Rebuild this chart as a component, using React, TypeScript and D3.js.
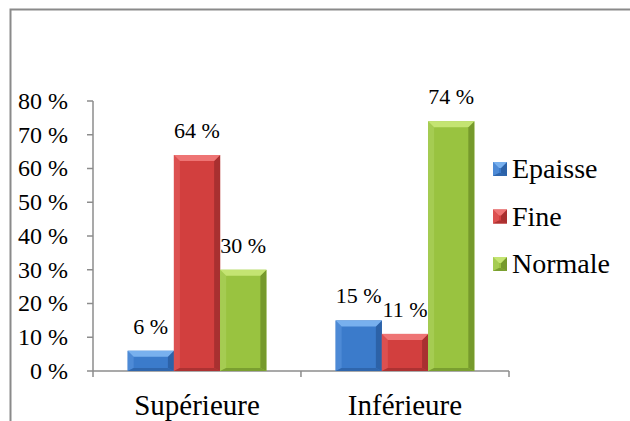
import React from "react";
import * as d3 from "d3";

const categories = ["Supérieure", "Inférieure"];
const seriesNames = ["Epaisse", "Fine", "Normale"];
const epaisse = [0.06, 0.15];
const fine = [0.64, 0.11];
const normale = [0.30, 0.74];
const yTicks = [0, 0.1, 0.2, 0.3, 0.4, 0.5, 0.6, 0.7, 0.8];
const seriesValues = [epaisse, fine, normale];

const palette = [
  { base: "#3b7bcb", light: "#78b0ee", left: "#4d8ad6", right: "#2c62a8", bottom: "#2f66ad" },
  { base: "#d23f3e", light: "#ee7474", left: "#dc5050", right: "#a83030", bottom: "#ad3232" },
  { base: "#99c340", light: "#c4e472", left: "#a5cc52", right: "#769a2c", bottom: "#7a9f30" },
];

const FONT = "Liberation Serif";

function BevelRect({ x, y, w, h, c }: { x: number; y: number; w: number; h: number; c: typeof palette[0] }) {
  const b = Math.min(6, h / 2, w / 2);
  const bb = Math.min(3, h / 3);
  return (
    <g>
      <rect x={x} y={y} width={w} height={h} fill={c.base} />
      <polygon points={`${x},${y} ${x + b},${y + b} ${x + b},${y + h - bb} ${x},${y + h}`} fill={c.left} />
      <polygon points={`${x + w},${y} ${x + w - b},${y + b} ${x + w - b},${y + h - bb} ${x + w},${y + h}`} fill={c.right} />
      <polygon points={`${x},${y + h} ${x + b},${y + h - bb} ${x + w - b},${y + h - bb} ${x + w},${y + h}`} fill={c.bottom} />
      <polygon points={`${x},${y} ${x + w},${y} ${x + w - b},${y + b} ${x + b},${y + b}`} fill={c.light} />
    </g>
  );
}

export default function App() {
  const W = 630, H = 421;
  const x0 = d3.scaleBand<string>().domain(categories).range([93, 509]).paddingInner(0.333).paddingOuter(0.1667);
  const x1 = d3.scaleBand<string>().domain(seriesNames).range([0, x0.bandwidth()]);
  const y = d3.scaleLinear().domain([0, 0.8]).range([371, 101]);
  const fmt = (v: number) => `${Math.round(v * 100)} %`;
  const step = x0.step();
  const boundaries = [93, 93 + step, 509];

  return (
    <svg width={W} height={H} style={{ position: "absolute", left: 0, top: 0, background: "#fff" }}>
      <rect x={10.5} y={9.5} width={640} height={430} fill="none" stroke="#8a8a8a" strokeWidth={2} />
      <line x1={93} y1={y(0.8)} x2={93} y2={371} stroke="#8c8c8c" strokeWidth={1.5} />
      {yTicks.map((t) => (
        <g key={t}>
          <line x1={87} x2={93} y1={y(t)} y2={y(t)} stroke="#8c8c8c" strokeWidth={1.5} />
          <text x={68} y={y(t)} dy="0.33em" textAnchor="end" fontFamily={FONT} fontSize={24} fill="#000">{fmt(t)}</text>
        </g>
      ))}
      <line x1={93} x2={509} y1={371} y2={371} stroke="#8c8c8c" strokeWidth={1.5} />
      {boundaries.map((b, i) => (
        <line key={i} x1={b} x2={b} y1={371} y2={377} stroke="#8c8c8c" strokeWidth={1.5} />
      ))}
      {categories.map((c) => (
        <text key={c} x={x0(c)! + x0.bandwidth() / 2} y={415} textAnchor="middle" fontFamily={FONT} fontSize={29} fill="#000">{c}</text>
      ))}
      {categories.map((c, ci) =>
        seriesNames.map((s, si) => {
          const v = seriesValues[si][ci];
          const bx = x0(c)! + x1(s)!;
          const by = y(v);
          const bw = x1.bandwidth();
          return (
            <g key={c + s}>
              <BevelRect x={bx} y={by} w={bw} h={371 - by} c={palette[si]} />
              <text x={bx + bw / 2} y={by - 17} textAnchor="middle" fontFamily={FONT} fontSize={22} fill="#000">{fmt(v)}</text>
            </g>
          );
        })
      )}
      {seriesNames.map((s, i) => {
        const cy = 169 + i * 47.5;
        return (
          <g key={s}>
            <BevelRect x={493} y={cy - 7} w={14} h={14} c={palette[i]} />
            <text x={512} y={cy} dy="0.33em" fontFamily={FONT} fontSize={28} fill="#000">{s}</text>
          </g>
        );
      })}
    </svg>
  );
}
